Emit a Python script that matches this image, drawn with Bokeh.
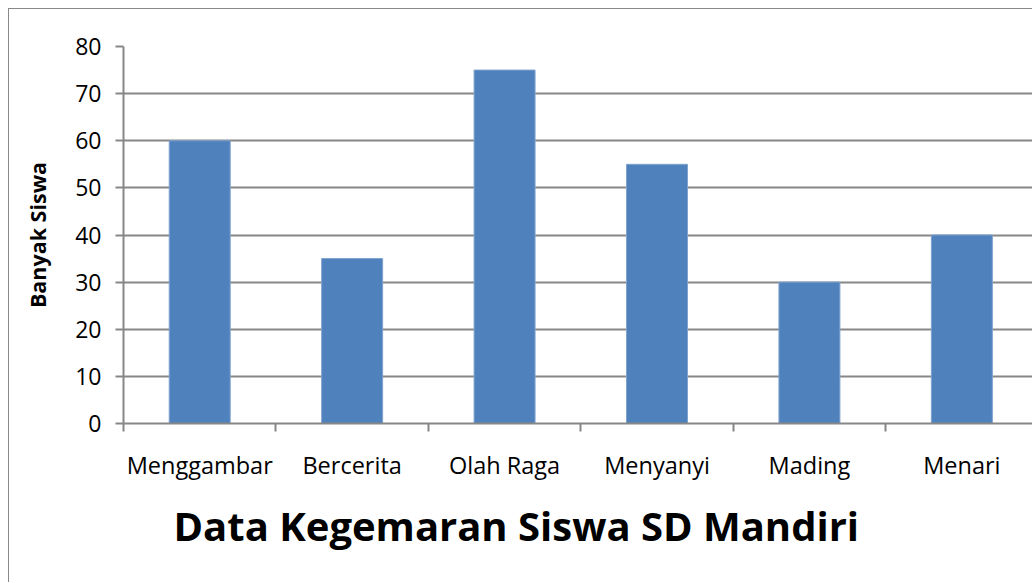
from bokeh.plotting import figure
from bokeh.models import Range1d, FixedTicker, Spacer
from bokeh.layouts import column, row
from bokeh.embed import file_html
from bokeh.resources import INLINE

categories = ["Menggambar", "Bercerita", "Olah Raga", "Menyanyi", "Mading", "Menari"]
values = [60, 35, 75, 55, 30, 40]
y_ticks = [0, 10, 20, 30, 40, 50, 60, 70, 80]
title_text = "Data Kegemaran Siswa SD Mandiri"
y_label = "Banyak Siswa"

FONT = "Open Sans"
GRAY = "#878787"

centers = [i + 0.5 for i in range(len(categories))]
bounds = list(range(len(categories) + 1))

p = figure(width=1024, height=574, output_backend="svg", toolbar_location=None,
           x_range=Range1d(0, 5.97), y_range=Range1d(0, 80),
           min_border_left=114, min_border_top=37, min_border_bottom=160,
           min_border_right=0, title_location="below")
p.styles = {"border-left": "1px solid #888888", "border-top": "1px solid #888888"}
p.outline_line_color = None

p.vbar(x=centers, top=values, width=0.4, fill_color="#4F81BD", line_color="#7FA2CF", line_width=1)

# x axis
xa = p.xaxis[0]
xa.ticker = FixedTicker(ticks=centers, minor_ticks=bounds)
xa.major_label_overrides = {float(c): n for c, n in zip(centers, categories)}
xa.major_tick_line_color = None
xa.major_tick_out = 0
xa.major_tick_in = 0
xa.minor_tick_out = 8
xa.minor_tick_in = 0
xa.minor_tick_line_color = GRAY
xa.minor_tick_line_width = 2
xa.axis_line_color = GRAY
xa.axis_line_width = 2
xa.major_label_text_font = FONT
xa.major_label_text_font_size = "23.5px"
xa.major_label_text_color = "black"
xa.major_label_standoff = 17

# y axis
ya = p.yaxis[0]
ya.ticker = FixedTicker(ticks=y_ticks, minor_ticks=[])
ya.major_tick_out = 8
ya.major_tick_in = 0
ya.major_tick_line_color = GRAY
ya.major_tick_line_width = 2
ya.axis_line_color = GRAY
ya.axis_line_width = 2
ya.major_label_text_font = FONT
ya.major_label_text_font_size = "23px"
ya.major_label_text_color = "black"
ya.major_label_standoff = 14
ya.axis_label = y_label
ya.axis_label_text_font = FONT
ya.axis_label_text_font_style = "bold"
ya.axis_label_text_font_size = "21.5px"
ya.axis_label_text_color = "black"
ya.axis_label_standoff = 20

p.xgrid.visible = False
p.ygrid.ticker = FixedTicker(ticks=y_ticks[1:], minor_ticks=[])
p.ygrid.grid_line_color = GRAY
p.ygrid.grid_line_width = 2

p.title.text = title_text
p.title.align = "left"
p.title.offset = 50
p.title.text_font = FONT
p.title.text_font_style = "bold"
p.title.text_font_size = "40px"
p.title.text_color = "black"
p.title.standoff = 25

layout = column(Spacer(height=8), row(Spacer(width=8), p))

open("out.html", "w").write(file_html(layout, INLINE))
